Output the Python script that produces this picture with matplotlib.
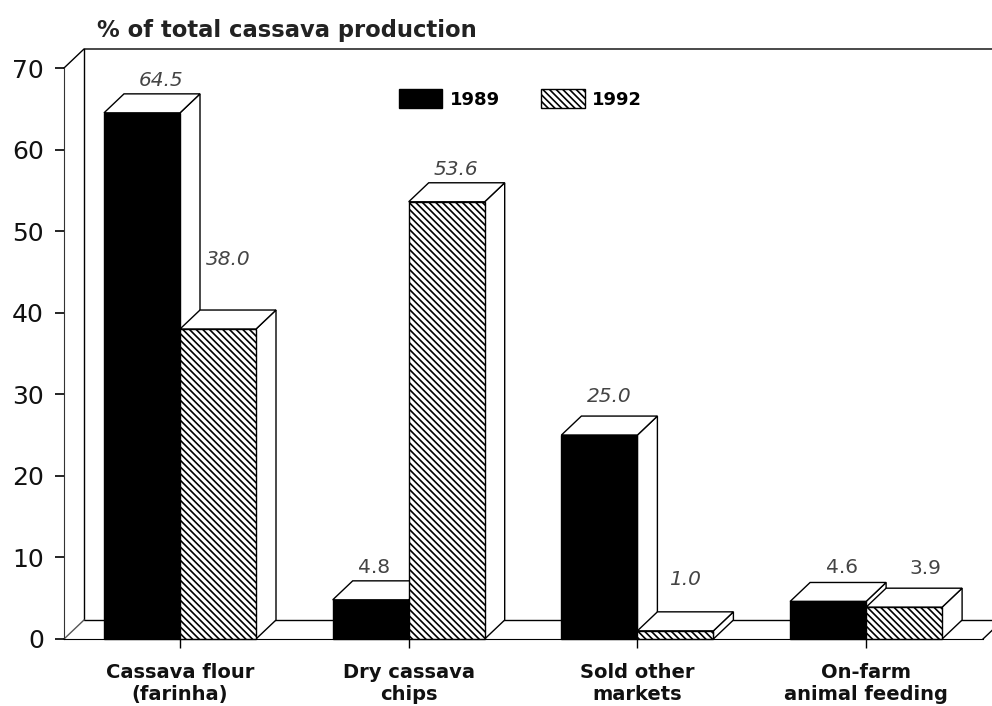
import matplotlib
matplotlib.use('Agg')
import matplotlib.pyplot as plt
from matplotlib.patches import Polygon, Patch

plt.rcParams['font.family'] = ['DejaVu Sans']
plt.rcParams['hatch.linewidth'] = 1.2

categories = ['Cassava flour\n(farinha)', 'Dry cassava\nchips', 'Sold other\nmarkets', 'On-farm\nanimal feeding']
values_1989 = [64.5, 4.8, 25.0, 4.6]
values_1992 = [38.0, 53.6, 1.0, 3.9]
yticks = [0, 10, 20, 30, 40, 50, 60, 70]

# label placement, offset from the top of each bar in value units
label_off_1989 = [4.0, 4.0, 4.7, 4.2]
label_off_1992 = [8.5, 4.0, 6.3, 4.7]
label_dx_1989 = [0.04, -0.03, 0.0, 0.017]
label_dx_1992 = [0.0, -0.005, 0.0, 0.05]
italic_1989 = [True, False, True, False]
italic_1992 = [True, True, True, False]

# scale of the page: one group is 228.7 px wide, one unit is 8.157 px high
group_px = 228.7
w = 76 / group_px
dx = 20 / group_px
dy = 19 / 8.157
xmin = (64 - 180) / group_px
xmax = (983 - 180) / group_px

fig = plt.figure(figsize=(9.92, 7.06), dpi=100)
ax = fig.add_axes([64 / 992, 67 / 706, 919 / 992, 571 / 706])
ax.set_xlim(xmin, xmax)
ax.set_ylim(0, 70)

lw = 1.0


def box_faces(x, width, h, z):
    top = [(x, h), (x + dx, h + dy), (x + width + dx, h + dy), (x + width, h)]
    side = [(x + width, 0), (x + width + dx, dy), (x + width + dx, h + dy), (x + width, h)]
    for pts in (side, top):
        ax.add_patch(Polygon(pts, closed=True, fc='white', ec='black', lw=lw, zorder=z, clip_on=False))


# back wall and floor
end = 992 / group_px
ax.plot([xmin, xmin + dx, end], [70, 70 + dy, 70 + dy], color='black', lw=lw, zorder=1, clip_on=False)
ax.plot([xmin + dx, xmin + dx, end], [70 + dy, dy, dy], color='black', lw=lw, zorder=1, clip_on=False)
ax.plot([xmin, xmin + dx], [0, dy], color='#555555', lw=lw, zorder=1, clip_on=False)
ax.plot([xmax, xmax + dx], [0, dy], color='black', lw=lw, zorder=1, clip_on=False)

for i in range(4):
    base = 2 + i * 3
    box_faces(i - w, w, values_1989[i], base)
    ax.bar(i - w, values_1989[i], w, align='edge', color='black', edgecolor='black', lw=lw,
           zorder=base + 1, clip_on=False)
    box_faces(i, w, values_1992[i], base + 1)
    ax.bar(i, values_1992[i], w, align='edge', facecolor='white', edgecolor='black',
           hatch='\\\\\\\\\\', lw=lw, zorder=base + 2, clip_on=False)

    ax.text(i - w / 2 + dx / 2 + label_dx_1989[i], values_1989[i] + label_off_1989[i], '%.1f' % values_1989[i],
            ha='center', va='center', fontsize=14.5, color='#444444', zorder=30,
            style='italic' if italic_1989[i] else 'normal')
    ax.text(i + w / 2 + dx / 2 + label_dx_1992[i], values_1992[i] + label_off_1992[i], '%.1f' % values_1992[i],
            ha='center', va='center', fontsize=14.5, color='#444444', zorder=30,
            style='italic' if italic_1992[i] else 'normal')

ax.spines['top'].set_visible(False)
ax.spines['right'].set_visible(False)
ax.spines['left'].set_color('#333333')
ax.spines['bottom'].set_zorder(25)

ax.set_yticks(yticks)
ax.tick_params(axis='y', labelsize=18, length=6.5, width=1.2, pad=8, labelcolor='#111111')
ax.set_xticks(range(4))
ax.set_xticklabels(categories, fontsize=14, fontweight='bold', color='#111111', linespacing=1.2)
ax.tick_params(axis='x', length=6.5, width=1.0, pad=11)

fig.text(97 / 992, 1 - 30 / 706, '% of total cassava production', fontsize=16.3, fontweight='bold', color='#222222',
         ha='left', va='center')

handles = [Patch(facecolor='black', edgecolor='black', label='1989'),
           Patch(facecolor='white', edgecolor='black', hatch='\\\\\\\\\\', label='1992')]
leg = fig.legend(handles=handles, ncol=2, frameon=False, loc='center left',
                 bbox_to_anchor=(399 / 992, 1 - 99 / 706), prop={'size': 13, 'weight': 'bold'},
                 handlelength=2.4, handleheight=1.2, handletextpad=0.4, columnspacing=2.3,
                 borderpad=0, borderaxespad=0)

fig.savefig('out.png', dpi=100)
